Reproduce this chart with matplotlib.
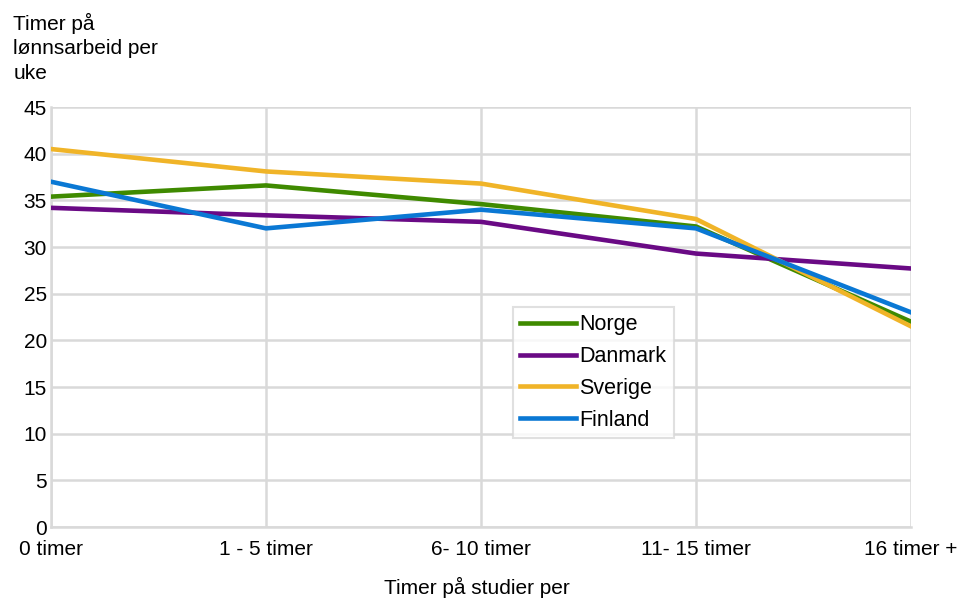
import numpy as np
import matplotlib.pyplot as plt

plt.rcParams['font.family'] = ['Liberation Sans', 'DejaVu Sans']

# data
kategorier = ["0 timer", "1 - 5 timer", "6- 10 timer", "11- 15 timer", "16 timer +"]
norge = [35.4, 36.6, 34.6, 32.2, 22.0]
danmark = [34.2, 33.4, 32.7, 29.3, 27.7]
sverige = [40.5, 38.1, 36.8, 33.0, 21.5]
finland = [37.0, 32.0, 34.0, 32.0, 23.0]

x = np.arange(len(kategorier))

fig = plt.figure(figsize=(9.62, 5.98), dpi=100)
ax = fig.add_axes([0.053, 0.1187, 0.894, 0.7023])

ax.plot(x, norge, color="#3f8a00", linewidth=3.3, label="Norge", zorder=3)
ax.plot(x, danmark, color="#6a0a85", linewidth=3.3, label="Danmark", zorder=3)
ax.plot(x, sverige, color="#f0b428", linewidth=3.3, label="Sverige", zorder=3)
ax.plot(x, finland, color="#0a78d4", linewidth=3.3, label="Finland", zorder=3)

ax.set_xlim(0, len(kategorier) - 1)
ax.set_ylim(0, 45)
ax.set_yticks(np.arange(0, 50, 5))
ax.set_xticks(x)
ax.set_xticklabels(kategorier)

ax.grid(True, color="#d9d9d9", linewidth=1.8)
ax.set_axisbelow(True)
for side in ["top", "right"]:
    ax.spines[side].set_visible(False)
for side in ["left", "bottom"]:
    ax.spines[side].set_color("#d9d9d9")
    ax.spines[side].set_linewidth(1.8)
ax.tick_params(length=0, labelsize=15, pad=3)
ax.tick_params(axis="x", pad=9)

leg = ax.legend(loc="upper left", bbox_to_anchor=(0.537, 0.524), fontsize=15.5,
                frameon=True, fancybox=False, edgecolor="#d9d9d9",
                handlelength=2.6, handletextpad=0.15, labelspacing=0.5,
                borderpad=0.35, borderaxespad=0)
leg.get_frame().set_linewidth(1.5)

fig.text(0.014, 0.978, "Timer på\nlønnsarbeid per\nuke", fontsize=15,
         va="top", ha="left", linespacing=1.35)
fig.text(0.496, 0.0, "Timer på studier per", fontsize=15, ha="center", va="bottom")

plt.savefig("out.png", dpi=100)
